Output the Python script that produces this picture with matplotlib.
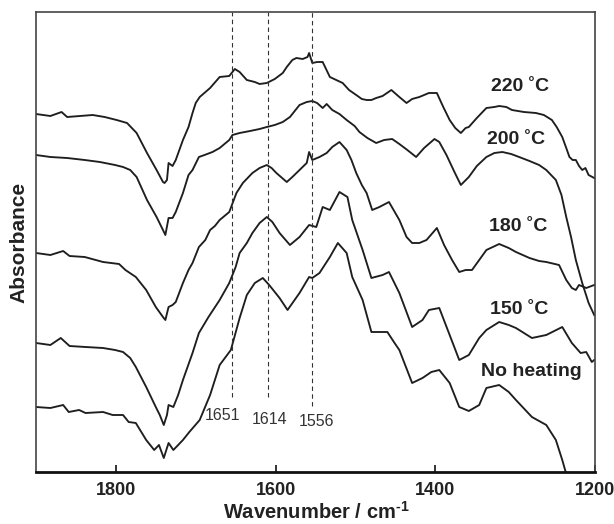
import matplotlib
matplotlib.use("Agg")
import matplotlib.pyplot as plt

plt.rcParams['font.family'] = ['Liberation Sans', 'DejaVu Sans']
plt.rcParams['mathtext.fontset'] = 'custom'
plt.rcParams['mathtext.rm'] = 'Liberation Sans:bold'
plt.rcParams['mathtext.bf'] = 'Liberation Sans:bold'

# ---------------- data (wavenumber / cm-1, absorbance a.u., offset) ----------------
wn_220 = [1900,1882,1868,1861,1845,1829,1814,1799,1786,1774,1761,1749,1741,1739,1736,1734,1729,1725,1716,1709,
          1704,1700,1695,1682,1670,1658,1651,1645,1636,1626,1620,1611,1601,1591,1586,1579,1574,1566,1560,1558,
          1554,1548,1541,1532,1524,1516,1508,1499,1492,1486,1480,1474,1466,1455,1445,1436,1429,1420,1408,1398,
          1390,1382,1375,1368,1362,1358,1348,1336,1326,1320,1311,1304,1289,1274,1264,1254,1248,1241,1236,1232,
          1228,1224,1220,1216,1212,1208,1201]
ab_220 = [3.58,3.56,3.60,3.55,3.56,3.57,3.55,3.52,3.49,3.39,3.19,3.02,2.90,2.89,2.92,3.09,3.06,3.12,3.32,3.45,
          3.59,3.69,3.75,3.84,3.95,3.96,4.03,4.00,3.92,3.90,3.88,3.89,3.93,3.99,4.05,4.12,4.14,4.13,4.15,4.19,
          4.09,4.10,4.10,3.95,3.92,3.89,3.82,3.77,3.73,3.72,3.72,3.74,3.76,3.82,3.75,3.69,3.73,3.75,3.79,3.79,
          3.65,3.52,3.44,3.39,3.44,3.45,3.54,3.64,3.65,3.66,3.65,3.62,3.60,3.59,3.57,3.52,3.45,3.35,3.24,3.15,
          3.12,3.12,3.06,3.02,3.04,2.97,2.94]

wn_200 = [1900,1882,1861,1839,1820,1801,1791,1782,1774,1761,1749,1741,1738,1734,1729,1725,1716,1709,1704,1696,
          1689,1679,1670,1658,1654,1645,1632,1620,1611,1601,1591,1582,1570,1561,1554,1548,1541,1536,1529,1520,
          1511,1501,1495,1485,1474,1464,1454,1445,1435,1424,1414,1401,1395,1386,1376,1368,1358,1348,1336,1326,
          1316,1305,1295,1282,1270,1261,1249,1242,1236,1230,1224,1216,1208,1201]
ab_200 = [3.17,3.15,3.14,3.12,3.10,3.07,3.05,3.02,2.95,2.72,2.55,2.42,2.37,2.54,2.54,2.60,2.79,2.97,3.02,3.15,
          3.17,3.20,3.24,3.32,3.37,3.39,3.41,3.43,3.45,3.47,3.50,3.55,3.67,3.70,3.71,3.69,3.64,3.68,3.62,3.58,
          3.52,3.46,3.40,3.34,3.29,3.32,3.33,3.28,3.22,3.15,3.24,3.33,3.30,3.17,3.00,2.87,2.95,3.06,3.15,3.19,
          3.20,3.18,3.15,3.11,3.07,3.02,2.92,2.77,2.55,2.35,2.12,1.89,1.69,1.57]

wn_180 = [1900,1882,1866,1858,1839,1816,1796,1788,1775,1762,1750,1741,1738,1734,1729,1725,1716,1709,1704,1696,
          1688,1682,1676,1670,1658,1649,1641,1629,1620,1611,1605,1599,1586,1579,1570,1561,1558,1554,1545,1536,
          1529,1520,1511,1505,1499,1492,1486,1479,1470,1458,1445,1436,1429,1420,1411,1398,1389,1379,1370,1362,
          1354,1345,1336,1320,1308,1299,1282,1270,1261,1245,1236,1229,1224,1220,1211,1201]
ab_180 = [2.19,2.17,2.21,2.16,2.15,2.10,2.08,2.02,1.95,1.82,1.65,1.55,1.52,1.65,1.67,1.70,1.89,2.02,2.09,2.25,
          2.32,2.42,2.46,2.52,2.60,2.79,2.89,2.99,3.04,3.07,3.04,2.99,2.90,2.95,3.02,3.09,3.20,3.12,3.15,3.19,
          3.25,3.30,3.22,3.12,2.99,2.87,2.79,2.62,2.65,2.70,2.52,2.35,2.29,2.29,2.32,2.44,2.27,2.12,2.00,2.02,
          2.02,2.12,2.22,2.28,2.24,2.20,2.14,2.11,2.10,2.07,1.92,1.84,1.82,1.87,1.84,1.87]

wn_150 = [1900,1882,1869,1858,1838,1816,1801,1791,1782,1775,1762,1750,1745,1740,1736,1734,1728,1722,1716,1704,
          1696,1684,1670,1658,1650,1645,1636,1629,1620,1611,1604,1595,1582,1570,1558,1549,1541,1532,1520,1510,
          1504,1491,1480,1466,1458,1445,1429,1416,1408,1395,1382,1370,1358,1345,1336,1320,1308,1299,1289,1279,
          1261,1241,1235,1229,1218,1211,1204,1201]
ab_150 = [1.29,1.27,1.34,1.26,1.25,1.24,1.22,1.20,1.14,1.05,0.85,0.65,0.57,0.47,0.57,0.67,0.65,0.77,0.92,1.19,
          1.39,1.55,1.72,1.89,2.05,2.19,2.29,2.39,2.49,2.55,2.50,2.39,2.27,2.35,2.47,2.45,2.65,2.62,2.80,2.75,
          2.52,2.22,1.94,1.97,2.00,1.79,1.45,1.52,1.62,1.64,1.37,1.12,1.17,1.34,1.42,1.50,1.47,1.44,1.39,1.34,
          1.37,1.45,1.37,1.29,1.19,1.20,1.10,1.12]

wn_nh = [1900,1882,1866,1859,1846,1838,1816,1804,1791,1784,1775,1762,1752,1746,1740,1734,1728,1716,1708,1695,
         1682,1670,1656,1645,1636,1626,1616,1608,1595,1585,1570,1558,1554,1545,1532,1522,1511,1504,1491,1480,
         1470,1460,1451,1445,1429,1416,1405,1395,1382,1370,1358,1345,1336,1320,1308,1299,1279,1261,1249,1241,
         1236,1232]
ab_nh = [0.65,0.64,0.67,0.60,0.62,0.59,0.60,0.57,0.57,0.50,0.49,0.32,0.22,0.27,0.14,0.29,0.22,0.32,0.40,0.52,
         0.77,1.07,1.22,1.54,1.77,1.89,1.94,1.87,1.74,1.62,1.79,1.95,1.94,1.99,2.15,2.29,2.19,1.95,1.72,1.40,
         1.40,1.40,1.29,1.22,0.89,0.94,1.00,1.02,0.89,0.65,0.61,0.67,0.84,0.87,0.80,0.72,0.55,0.47,0.32,0.12,
         -0.02,-0.13]

series = [(wn_220, ab_220), (wn_200, ab_200), (wn_180, ab_180), (wn_150, ab_150), (wn_nh, ab_nh)]

curve_labels = ['220 ˚C', '200 ˚C', '180 ˚C', '150 ˚C', 'No heating']
label_x = [1294, 1299, 1296, 1295, 1280]
label_y = [3.85, 3.32, 2.45, 1.63, 1.00]

peak_line_x = [1655, 1610, 1554]
peak_line_bottom = [0.75, 0.75, 0.66]
peak_labels = ['1651', '1614', '1556']
peak_label_x = [1666, 1607, 1549]
peak_label_y = [0.56, 0.53, 0.50]

xticks = [1800, 1600, 1400, 1200]

# ---------------- figure ----------------
fig = plt.figure(figsize=(6.14, 5.24), dpi=100)
ax = fig.add_axes([36/614, 52/524, 559/614, 460/524])

for wn, ab in series:
    ax.plot(wn, ab, color='#1e1e1e', lw=1.35, solid_joinstyle='round')

for xv, yb in zip(peak_line_x, peak_line_bottom):
    ax.plot([xv, xv], [yb, 4.60], color='#333333', lw=0.8, ls=(0, (4, 3)))

for t, xv, yv in zip(peak_labels, peak_label_x, peak_label_y):
    ax.text(xv, yv, t, ha='center', va='center', fontsize=11.5, color='#333333')

for t, xv, yv in zip(curve_labels, label_x, label_y):
    ax.text(xv, yv, t, ha='center', va='center', fontsize=14, fontweight='bold', color='#222222')

ax.set_xlim(1900, 1200)
ax.set_ylim(0, 4.60)
ax.set_xticks(xticks)
ax.set_xticklabels([str(v) for v in xticks], fontweight='bold', fontsize=13)
ax.set_yticks([])
ax.tick_params(axis='x', direction='in', length=5, width=1.3, pad=7, colors='#222222')

for s in ['top', 'right', 'left']:
    ax.spines[s].set_linewidth(1.2)
    ax.spines[s].set_color('#444444')
ax.spines['bottom'].set_linewidth(2.0)
ax.spines['bottom'].set_color('#111111')

ax.set_xlabel(r'Wavenumber / cm$^{\text{-}1}$', fontsize=14.5, fontweight='bold', color='#222222')
ax.xaxis.set_label_coords(0.501, -0.062)
ax.set_ylabel('Absorbance', fontsize=15, fontweight='bold', color='#222222')
ax.yaxis.set_label_coords(-0.014, 0.5)

fig.savefig('out.png', dpi=100)
